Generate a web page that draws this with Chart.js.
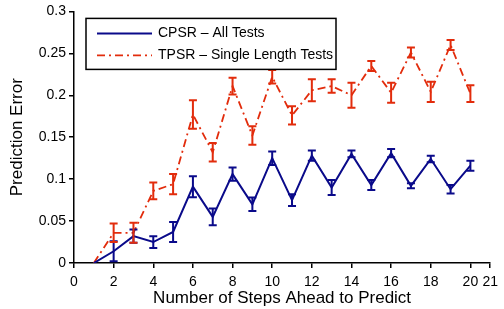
<!DOCTYPE html>
<html><head><meta charset="utf-8">
<script src="https://cdn.jsdelivr.net/npm/chart.js@4.4.1/dist/chart.umd.min.js"></script>
<style>html,body{margin:0;padding:0;background:#fff;}</style>
</head><body>
<canvas id="c" width="504" height="309"></canvas>
<script>
// ---- data ----
const steps = [1,2,3,4,5,6,7,8,9,10,11,12,13,14,15,16,17,18,19,20];
const cpsrMean = [0,0.014,0.032,0.025,0.037,0.091,0.055,0.106,0.070,0.125,0.075,0.128,0.090,0.130,0.093,0.131,0.092,0.124,0.088,0.116];
const cpsrErr  = [0,0.012,0.008,0.007,0.012,0.0125,0.010,0.008,0.008,0.008,0.007,0.006,0.009,0.004,0.006,0.005,0.003,0.004,0.005,0.006];
const tpsrMean = [0,0.036,0.036,0.086,0.094,0.177,0.132,0.211,0.152,0.222,0.176,0.206,0.211,0.200,0.235,0.203,0.251,0.204,0.260,0.202];
const tpsrErr  = [0,0.011,0.012,0.010,0.012,0.017,0.011,0.010,0.011,0.008,0.011,0.013,0.008,0.015,0.006,0.012,0.006,0.012,0.006,0.010];
const xTicks = [0,2,4,6,8,10,12,14,16,18,20,21];
const yTicks = [0,0.05,0.1,0.15,0.2,0.25,0.3];
const seriesLabels = ['CPSR \u2013 All Tests','TPSR \u2013 Single Length Tests'];
const xTitle = 'Number of Steps Ahead to Predict';
const yTitle = 'Prediction Error';

const BLUE = '#0a0a8a';
const RED = '#e22c0c';
Chart.defaults.font.family = '"Liberation Sans", Arial, Helvetica, sans-serif';
Chart.defaults.color = '#000';

const errorBars = {
  id: 'errorBars',
  afterDatasetsDraw(chart) {
    const {ctx, scales: {x, y}} = chart;
    ctx.save();
    chart.data.datasets.forEach(ds => {
      if (!ds.errors) return;
      ctx.strokeStyle = ds.borderColor;
      ctx.lineWidth = 2;
      ctx.setLineDash([]);
      ds.data.forEach((p, i) => {
        const e = ds.errors[i];
        if (!e) return;
        const px = x.getPixelForValue(p.x);
        const y1 = y.getPixelForValue(p.y + e);
        const y2 = y.getPixelForValue(p.y - e);
        ctx.beginPath();
        ctx.moveTo(px, y1); ctx.lineTo(px, y2);
        ctx.moveTo(px - 4, y1); ctx.lineTo(px + 4, y1);
        ctx.moveTo(px - 4, y2); ctx.lineTo(px + 4, y2);
        ctx.stroke();
      });
    });
    ctx.restore();
  }
};

const boxLegend = {
  id: 'boxLegend',
  afterDraw(chart) {
    const {ctx, chartArea} = chart;
    const L = chartArea.left + 12, T = chartArea.top + 7, W = 250, H = 51;
    ctx.save();
    ctx.fillStyle = '#fff';
    ctx.fillRect(L, T, W, H);
    ctx.strokeStyle = '#000';
    ctx.lineWidth = 1.5;
    ctx.strokeRect(L, T, W, H);
    ctx.font = '14px "Liberation Sans", Arial, sans-serif';
    ctx.textBaseline = 'middle';
    chart.data.datasets.forEach((ds, i) => {
      const cy = T + 15 + i * 22;
      ctx.strokeStyle = ds.borderColor;
      ctx.lineWidth = ds.borderWidth;
      ctx.setLineDash(ds.borderDash || []);
      ctx.beginPath();
      ctx.moveTo(L + 11, cy); ctx.lineTo(L + 66, cy);
      ctx.stroke();
      ctx.setLineDash([]);
      ctx.fillStyle = '#000';
      ctx.fillText(ds.label, L + 72, cy);
    });
    ctx.restore();
  }
};

const mk = (means) => steps.map((s, i) => ({x: s, y: means[i]}));

new Chart(document.getElementById('c'), {
  type: 'line',
  data: {
    datasets: [
      {label: seriesLabels[0], data: mk(cpsrMean), errors: cpsrErr, borderColor: BLUE, backgroundColor: BLUE, borderWidth: 2, pointRadius: 0, tension: 0, fill: false},
      {label: seriesLabels[1], data: mk(tpsrMean), errors: tpsrErr, borderColor: RED, backgroundColor: RED, borderWidth: 1.8, borderDash: [8,4,2,4], pointRadius: 0, tension: 0, fill: false}
    ]
  },
  options: {
    responsive: false,
    devicePixelRatio: 1,
    animation: false,
    layout: {padding: {top: 11, right: 7, left: 0, bottom: 0}},
    plugins: {legend: {display: false}, tooltip: {enabled: false}},
    scales: {
      x: {
        type: 'linear', min: 0, max: 21,
        afterBuildTicks: s => { s.ticks = xTicks.map(v => ({value: v})); },
        afterFit: s => { s.height = 46; },
        ticks: {autoSkip: false, maxRotation: 0, padding: 6, font: {size: 14}, color: '#000', callback: v => String(v)},
        grid: {drawOnChartArea: false, drawTicks: true, tickLength: 5, color: '#000', lineWidth: 1.5},
        border: {display: true, color: '#000', width: 1.5},
        title: {display: true, text: xTitle, font: {size: 17}, color: '#000', padding: {top: 0, bottom: 0}}
      },
      y: {
        type: 'linear', min: 0, max: 0.3,
        afterBuildTicks: s => { s.ticks = yTicks.map(v => ({value: v})); },
        afterFit: s => { s.width = 74; },
        ticks: {padding: 3, font: {size: 14}, color: '#000', callback: v => String(v)},
        grid: {drawOnChartArea: false, drawTicks: true, tickLength: 5, color: '#000', lineWidth: 1.5},
        border: {display: true, color: '#000', width: 1.5},
        title: {display: true, text: yTitle, font: {size: 17}, color: '#000', padding: {top: 7, bottom: 0}}
      }
    }
  },
  plugins: [errorBars, boxLegend]
});
</script>
</body></html>
